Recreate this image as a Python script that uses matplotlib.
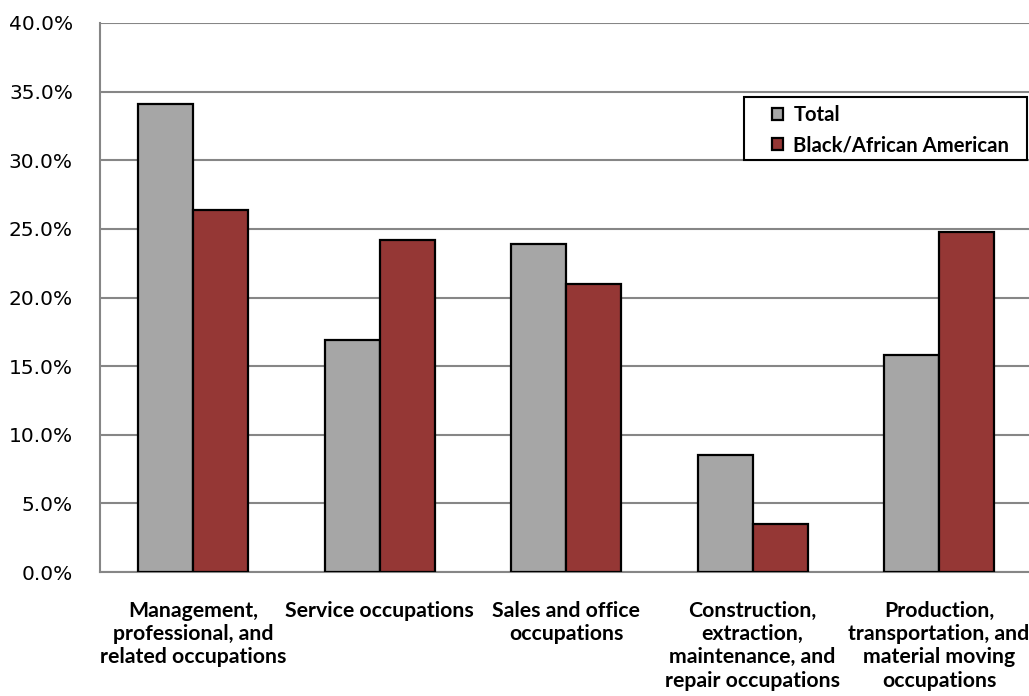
import numpy as np
import matplotlib.pyplot as plt
from matplotlib.patches import Rectangle
from matplotlib.ticker import FuncFormatter

categories = ['Management,\nprofessional, and\nrelated occupations',
              'Service occupations',
              'Sales and office\noccupations',
              'Construction,\nextraction,\nmaintenance, and\nrepair occupations',
              'Production,\ntransportation, and\nmaterial moving\noccupations']
total = [34.1, 16.9, 23.9, 8.5, 15.8]
black = [26.4, 24.2, 21.0, 3.5, 24.8]

fig = plt.figure(figsize=(10.29, 6.96), dpi=100)
ax = fig.add_axes([0.0972, 0.178, 0.906, 0.789])

x = np.arange(len(categories))
w = 0.295
ax.bar(x - w / 2, total, w, color='#A6A6A6', edgecolor='black', linewidth=1.6,
       label='Total', zorder=3)
ax.bar(x + w / 2, black, w, color='#953735', edgecolor='black', linewidth=1.6,
       label='Black/African American', zorder=3)

ax.set_xlim(-0.5, len(categories) - 0.5)
ax.set_ylim(0, 40)
ax.set_yticks(np.arange(0, 41, 5))
ax.yaxis.set_major_formatter(FuncFormatter(lambda v, p: f'{v:.1f}%'))
ax.grid(axis='y', color='#868686', linewidth=1.5, zorder=0)
ax.tick_params(axis='y', length=0, labelsize=14.5, pad=19.5)
ax.tick_params(axis='x', length=0)
ax.set_xticks(x)
ax.set_xticklabels([])
for s in ['top', 'right']:
    ax.spines[s].set_visible(False)
for s in ['left', 'bottom']:
    ax.spines[s].set_color('#868686')
    ax.spines[s].set_linewidth(1.5)

for xi, lab in zip(x, categories):
    ax.text(xi, -2.1, lab, ha='center', va='top', fontsize=15.3,
            fontweight='bold', family='Lato', linespacing=1.2,
            transform=ax.transData, clip_on=False)

# legend box drawn by hand, legend text placed inside it
ax.add_patch(Rectangle((0.691, 0.7505), 0.3036, 0.1145, transform=ax.transAxes,
                       facecolor='white', edgecolor='black', linewidth=1.5,
                       zorder=4, clip_on=False))
leg = ax.legend(loc='upper left', bbox_to_anchor=(0.721, 0.8505),
                prop={'family': 'Lato', 'weight': 'bold', 'size': 14.6},
                frameon=False, borderpad=0, borderaxespad=0,
                handlelength=0.55, handleheight=0.55, handletextpad=0.5,
                labelspacing=0.5)
leg.set_zorder(5)

fig.savefig('out.png', dpi=100)
